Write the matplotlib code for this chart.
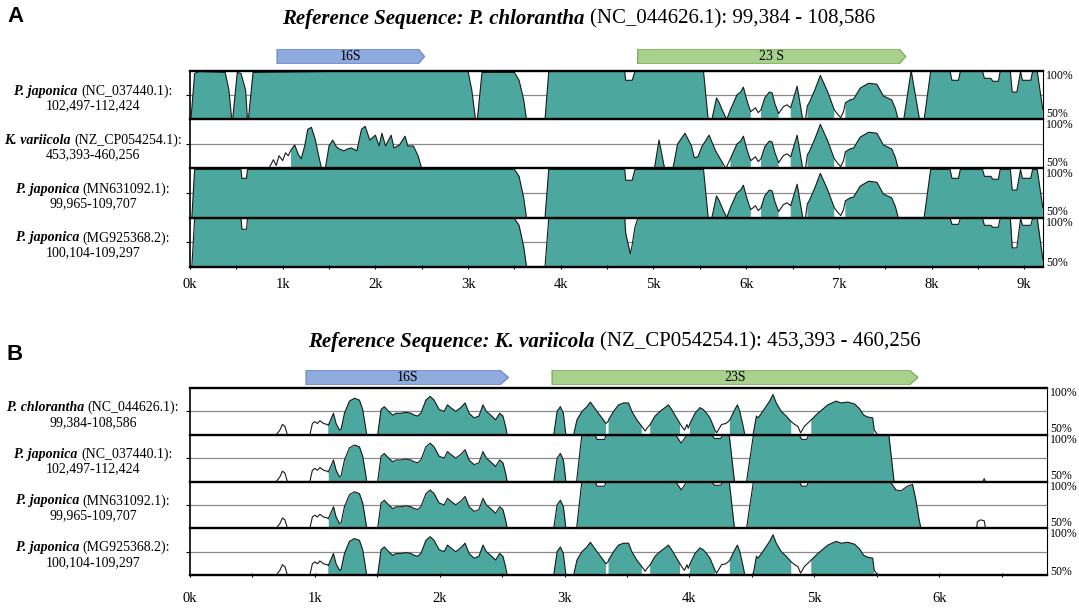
import numpy as np
import matplotlib
matplotlib.use("Agg")
import matplotlib.pyplot as plt
from matplotlib.patches import Polygon

plt.rcParams["font.family"] = "Liberation Serif"

W, H = 1079, 615
TEAL = "#4ca89e"

# ── panel A : reference P. chlorantha (kb) ───────────────────────────────
A_LEN = 9.202
A_TICKS = [0, 1, 2, 3, 4, 5, 6, 7, 8, 9]
A_GENES = [("16S", 0.94, 2.53, "#8faadc", "#6f8cc8"),
           ("23 S", 4.83, 7.72, "#a9d18e", "#7daf5e")]
A_LABELS = [("P. japonica", "(NC_037440.1):", "102,497-112,424"),
            ("K. variicola", "(NZ_CP054254.1):", "453,393-460,256"),
            ("P. japonica", "(MN631092.1):", "99,965-109,707"),
            ("P. japonica", "(MG925368.2):", "100,104-109,297")]

# wavy 23S stretch shared by several tracks
WAVE_X = [5.83, 5.90, 5.94, 5.97, 6.00, 6.03, 6.05, 6.10, 6.13,
          6.16, 6.20, 6.25, 6.28, 6.31, 6.35, 6.40, 6.44,
          6.48, 6.55, 6.61, 6.64, 6.66, 6.68, 6.74, 6.80, 6.88, 6.95,
          6.99, 7.02, 7.05, 7.07, 7.12, 7.16, 7.23, 7.32, 7.41, 7.48,
          7.57, 7.61, 7.64]
WAVE_Y = [60, 75, 78, 83, 72, 63, 58, 62, 57,
          60, 72, 78, 77, 66, 56, 63, 65,
          62, 84, 50, 50, 64, 67, 80, 95, 78, 60,
          55, 52, 58, 67, 70, 71, 82, 87, 86, 74,
          70, 61, 50]
WAVE_FILL = [(5.83, 6.05), (6.16, 6.35), (6.48, 6.61), (6.66, 6.95), (7.07, 7.64)]

# right-hand conserved block
RB_X = [7.92, 7.99, 8.20, 8.22, 8.29, 8.31, 8.55, 8.57, 8.64, 8.66, 8.72,
        8.74, 8.85, 8.87, 8.92, 8.96, 8.98, 9.07, 9.09, 9.14, 9.20]
RB_Y = [50, 99, 99, 90, 90, 99, 99, 92, 92, 89, 89,
        99, 99, 78, 78, 99, 90, 90, 99, 99, 60]

A1_X = [0.00, 0.01, 0.05, 0.10, 0.38, 0.42, 0.45, 0.46, 0.51, 0.55, 0.60, 0.62,
        0.63, 0.68, 1.50, 3.00, 3.04, 3.08, 3.10, 3.15, 3.50, 3.55, 3.60, 3.63,
        3.83, 3.87, 4.69, 4.70, 4.77, 4.80, 5.54, 5.59,
        5.63, 5.68, 5.71, 5.74, 5.79] + WAVE_X + [7.70, 7.78, 7.87] + RB_X
A1_Y = [50, 50, 97, 99, 98, 80, 50, 50, 98, 97, 80, 50,
        50, 98, 99, 99, 80, 50, 50, 98, 98, 90, 70, 50,
        50, 99, 99, 90, 90, 99, 99, 50,
        50, 72, 67, 60, 50] + WAVE_Y + [50, 100, 50] + RB_Y
A1_FILL = [(0.01, 0.45), (0.46, 0.62), (0.63, 3.08), (3.10, 3.63),
           (3.83, 5.59), (5.63, 5.79)] + WAVE_FILL + [(7.70, 7.87), (7.92, 9.20)]

A2_X = [0.85, 0.90, 0.93, 0.96, 1.00, 1.03, 1.06, 1.09, 1.13, 1.17, 1.20, 1.24,
        1.27, 1.31, 1.35, 1.39, 1.42,
        1.46, 1.50, 1.54, 1.58, 1.61, 1.66, 1.70, 1.74, 1.80, 1.85, 1.89, 1.94,
        2.00, 2.04, 2.07, 2.11, 2.17, 2.20, 2.26, 2.32, 2.35, 2.41, 2.46, 2.50,
        5.01, 5.06, 5.12,
        5.21, 5.26, 5.34, 5.41, 5.44, 5.48, 5.52, 5.60, 5.67, 5.75, 5.78] + WAVE_X
A2_Y = [50, 59, 53, 63, 58, 66, 63, 69, 74, 64, 60, 74,
        90, 92, 80, 62, 50,
        50, 73, 79, 72, 70, 68, 70, 71, 68, 90, 93, 79,
        84, 73, 86, 73, 84, 71, 74, 83, 73, 73, 63, 50,
        50, 79, 50,
        50, 75, 86, 73, 61, 62, 72, 84, 68, 55, 50] + WAVE_Y
A2_FILL = [(1.09, 1.42), (1.46, 2.50), (5.01, 5.12), (5.21, 5.44),
           (5.48, 5.75)] + WAVE_FILL

A3_X = [0.00, 0.02, 0.05, 0.55, 0.56, 0.61, 0.62, 3.50, 3.55, 3.60, 3.63,
        3.83, 3.87, 4.69, 4.70, 4.77, 4.80, 5.54, 5.59,
        5.63, 5.68, 5.71, 5.74, 5.79] + WAVE_X + RB_X
A3_Y = [50, 50, 99, 99, 90, 90, 99, 99, 92, 70, 50,
        50, 99, 99, 88, 88, 99, 99, 50,
        50, 72, 67, 60, 50] + WAVE_Y + RB_Y
A3_FILL = [(0.02, 3.63), (3.83, 5.59), (5.63, 5.79)] + WAVE_FILL + [(7.92, 9.20)]

A4_X = [0.00, 0.02, 0.05, 0.55, 0.56, 0.61, 0.62, 3.50, 3.55, 3.60, 3.63,
        3.83, 3.87, 4.69, 4.70, 4.75, 4.77, 4.80, 4.83, 8.20, 8.22, 8.29, 8.31,
        8.55, 8.57, 8.64, 8.66, 8.72, 8.74, 8.85, 8.87, 8.92, 8.96, 8.98, 9.07,
        9.09, 9.14, 9.20]
A4_Y = [50, 50, 99, 99, 88, 88, 99, 99, 92, 70, 50,
        50, 99, 99, 84, 63, 72, 90, 99, 99, 93, 93, 99,
        99, 92, 92, 90, 90, 99, 99, 69, 69, 99, 92, 92,
        99, 99, 57]
A4_FILL = [(0.02, 3.63), (3.83, 9.20)]

# ── panel B : reference K. variicola (kb) ────────────────────────────────
B_LEN = 6.863
B_TICKS = [0, 1, 2, 3, 4, 5, 6]
B_GENES = [("16S", 0.93, 2.55, "#8faadc", "#6f8cc8"),
           ("23S", 2.90, 5.83, "#a9d18e", "#7daf5e")]
B_LABELS = [("P. chlorantha", "(NC_044626.1):", "99,384-108,586"),
            ("P. japonica", "(NC_037440.1):", "102,497-112,424"),
            ("P. japonica", "(MN631092.1):", "99,965-109,707"),
            ("P. japonica", "(MG925368.2):", "100,104-109,297")]

B16_X = [0.69, 0.72, 0.74, 0.76, 0.78,
         0.96, 0.98, 1.00, 1.02, 1.04, 1.07, 1.10,
         1.107, 1.149, 1.17, 1.197, 1.21, 1.237, 1.277, 1.317, 1.357, 1.383, 1.405, 1.415,
         1.503, 1.530, 1.556, 1.591, 1.623, 1.650, 1.689, 1.729, 1.769, 1.796, 1.822,
         1.849, 1.889, 1.923, 1.955, 1.995, 2.035, 2.062, 2.088, 2.128, 2.168, 2.203,
         2.235, 2.275, 2.314, 2.346, 2.373, 2.408, 2.447, 2.480, 2.506, 2.527, 2.540]
B16_Y = [50, 55, 61, 59, 50,
         50, 62, 64, 62, 65, 62, 61,
         60, 73, 62, 55, 56, 73, 86, 89, 87, 77, 59, 50,
         50, 77, 80, 75, 71, 73, 73, 74, 73, 71, 70,
         73, 87, 91, 87, 77, 75, 82, 79, 75, 79, 84,
         73, 68, 70, 82, 75, 71, 66, 73, 70, 59, 50]
B16_FILL = [(1.107, 1.197), (1.21, 1.415), (1.503, 2.54)]

SPIKE_X = [2.913, 2.940, 2.966, 2.990, 3.010]
SPIKE_Y = [50, 75, 80, 73, 50]
SPIKE_FILL = [(2.913, 3.010)]

B23_X = [3.072, 3.099, 3.139, 3.179, 3.206, 3.232, 3.259, 3.299, 3.331, 3.347,
         3.352, 3.392, 3.432, 3.472, 3.512, 3.538, 3.578, 3.618, 3.645,
         3.660, 3.685, 3.724, 3.764, 3.804, 3.831, 3.857, 3.897, 3.924, 3.937,
         3.960, 3.980, 3.990,
         4.004, 4.044, 4.084, 4.110, 4.137, 4.164, 4.204, 4.217,
         4.230, 4.257, 4.290, 4.310,
         4.323, 4.363, 4.384, 4.403, 4.430, 4.443,
         4.509, 4.536, 4.549, 4.576, 4.607, 4.642, 4.669, 4.695, 4.735, 4.775,
         4.815, 4.842, 4.868,
         4.890, 4.920, 4.960,
         4.975, 5.028, 5.108, 5.174, 5.214, 5.267, 5.321, 5.361, 5.395, 5.427,
         5.467, 5.480, 5.507]
B23_Y = [50, 66, 75, 80, 85, 80, 75, 68, 62, 64,
         66, 75, 82, 84, 84, 75, 66, 59, 54,
         57, 61, 70, 75, 79, 82, 77, 68, 62, 59,
         55, 61, 57,
         62, 73, 79, 77, 73, 68, 55, 52,
         55, 61, 62, 64,
         66, 77, 82, 75, 59, 50,
         50, 70, 68, 73, 79, 86, 93, 84, 75, 70,
         64, 61, 59,
         52, 59, 64,
         66, 73, 82, 86, 84, 85, 83, 78, 71, 69,
         68, 55, 50]
B23_FILL = [(3.072, 3.331), (3.352, 3.618), (3.685, 3.924), (4.004, 4.204),
            (4.323, 4.443), (4.509, 4.815), (4.975, 5.480)]

BLK_X = [3.096, 3.137, 3.247, 3.260, 3.320, 3.330, 3.893, 3.934, 3.975,
         4.181, 4.200, 4.250, 4.264, 4.319, 4.360]
BLK_Y = [50, 99, 99, 95, 95, 99, 99, 91, 99, 99, 96, 96, 99, 99, 50]

B2_X = B16_X + SPIKE_X + BLK_X + [4.457, 4.511, 4.882, 4.900, 4.940, 4.951,
                                  5.597, 5.638, 6.350, 6.360, 6.370]
B2_Y = B16_Y + SPIKE_Y + BLK_Y + [50, 99, 99, 95, 95, 99, 99, 50, 50, 53, 50]
B2_FILL = B16_FILL + SPIKE_FILL + [(3.096, 4.360), (4.457, 5.638)]

B3_X = B16_X + SPIKE_X + BLK_X + [4.457, 4.511, 4.882, 4.900, 4.940, 4.951,
                                  5.613, 5.653, 5.693, 5.746, 5.786, 5.813,
                                  5.839, 5.853, 6.300, 6.305, 6.330, 6.360, 6.370]
B3_Y = B16_Y + SPIKE_Y + BLK_Y + [50, 99, 99, 95, 95, 99, 99, 91, 90, 95, 97,
                                  80, 59, 50, 50, 57, 59, 58, 50]
B3_FILL = B16_FILL + SPIKE_FILL + [(3.096, 4.360), (4.457, 5.853)]

B1_X = B16_X + SPIKE_X + B23_X
B1_Y = B16_Y + SPIKE_Y + B23_Y
B1_FILL = B16_FILL + SPIKE_FILL + B23_FILL


fig = plt.figure(figsize=(W / 100, H / 100), dpi=100)
renderer = fig.canvas.get_renderer()


def px_axes(left, top, right, bottom):
    return fig.add_axes([left / W, 1 - bottom / H, (right - left) / W, (bottom - top) / H])


def mixed_line(xc, y, parts, size):
    """centre a line made of (text, weight, style) pieces at pixel (xc, y)"""
    texts = [fig.text(0, 1 - y / H, s, fontsize=size, fontweight=w, fontstyle=st,
                      va="center", ha="left") for s, w, st in parts]
    widths = [t.get_window_extent(renderer).width for t in texts]
    gap = size * 100 / 72 * 0.27
    x = xc - (sum(widths) + gap * (len(texts) - 1)) / 2
    for t, wd in zip(texts, widths):
        t.set_x(x / W)
        x += wd + gap


def draw_track(ax, xs, ys, fills, length):
    xs, ys = np.asarray(xs, float), np.asarray(ys, float)
    mask = np.zeros(len(xs), bool)
    for a, b in fills:
        mask |= (xs >= a - 1e-9) & (xs <= b + 1e-9)
    ax.set_xlim(0, length)
    ax.set_ylim(50, 100)
    ax.axhline(75, color="#8a8a8a", lw=0.9, zorder=0.5)
    ax.fill_between(xs, ys, 50, where=mask, color=TEAL, lw=0, zorder=1)
    ax.plot(xs, ys, color="#1a1a1a", lw=0.8, zorder=2)
    ax.spines["top"].set_linewidth(1.7)
    ax.spines["left"].set_linewidth(1.2)
    ax.spines["right"].set_linewidth(0.8)
    ax.spines["bottom"].set_visible(False)
    ax.set_yticks([75])
    ax.set_yticklabels([])
    ax.tick_params(axis="y", length=3, width=0.8, direction="out")
    ax.set_xticks([])


def draw_panel(letter, letter_y, title_parts, title_x, title_y,
               genes, gene_top, gene_bot, labels, tracks, tops, height,
               length, ticks, left, right, pct_x, tick_pad):
    fig.text(15 / W, 1 - letter_y / H, letter, fontsize=16, fontweight="bold",
             family="Liberation Sans", ha="center", va="center")
    mixed_line(title_x, title_y, title_parts, 15)

    gax = px_axes(left, gene_top, right, gene_bot)
    gax.set_xlim(0, length)
    gax.set_ylim(0, 1)
    gax.axis("off")
    tip = 0.07
    for name, g0, g1, fc, ec in genes:
        gax.add_patch(Polygon([(g0, 0), (g1 - tip, 0), (g1, 0.5), (g1 - tip, 1), (g0, 1)],
                              closed=True, facecolor=fc, edgecolor=ec, lw=1.0))
        gax.text((g0 + g1) / 2, 0.5, name, ha="center", va="center", fontsize=10)

    for i, ((xs, ys, fl), top, lab) in enumerate(zip(tracks, tops, labels)):
        bottom = top + height
        ax = px_axes(left, top, right, bottom)
        draw_track(ax, xs, ys, fl, length)
        mid = top + height / 2
        mixed_line(93, mid - 4, [(lab[0], "bold", "italic"), (lab[1], "normal", "normal")], 10)
        mixed_line(93, mid + 11, [(lab[2], "normal", "normal")], 10)
        fig.text(pct_x / W, 1 - (top + 5.5) / H, "100%", fontsize=8.5, va="center")
        last = i == len(tracks) - 1
        fig.text(pct_x / W, 1 - (bottom - (3 if last else 5.5)) / H, "50%",
                 fontsize=8.5, va="center")
        if last:
            ax.spines["bottom"].set_visible(True)
            ax.spines["bottom"].set_linewidth(1.7)
            ax.set_xticks(ticks)
            ax.set_xticklabels([f"{t}k" for t in ticks], fontsize=10.5)
            ax.set_xticks([t + 0.5 for t in ticks if t + 0.5 < length], minor=True)
            ax.tick_params(axis="x", which="both", length=3, width=0.8,
                           direction="inout", pad=tick_pad)


draw_panel("A", 16,
           [("Reference Sequence: P. chlorantha", "bold", "italic"),
            ("(NC_044626.1): 99,384 - 108,586", "normal", "normal")], 579, 19,
           A_GENES, 49, 64, A_LABELS,
           [(A1_X, A1_Y, A1_FILL), (A2_X, A2_Y, A2_FILL),
            (A3_X, A3_Y, A3_FILL), (A4_X, A4_Y, A4_FILL)],
           [70.5, 119.5, 168.5, 217.5], 49, A_LEN, A_TICKS, 190, 1043, 1046, 7)

draw_panel("B", 354,
           [("Reference Sequence: K. variicola", "bold", "italic"),
            ("(NZ_CP054254.1): 453,393 - 460,256", "normal", "normal")], 614, 342,
           B_GENES, 370, 385, B_LABELS,
           [(B1_X, B1_Y, B1_FILL), (B2_X, B2_Y, B2_FILL),
            (B3_X, B3_Y, B3_FILL), (B1_X, B1_Y, B1_FILL)],
           [388, 434.75, 481.5, 528.25], 46.75, B_LEN, B_TICKS, 190, 1047, 1050, 11)

fig.savefig("out.png", dpi=100)
